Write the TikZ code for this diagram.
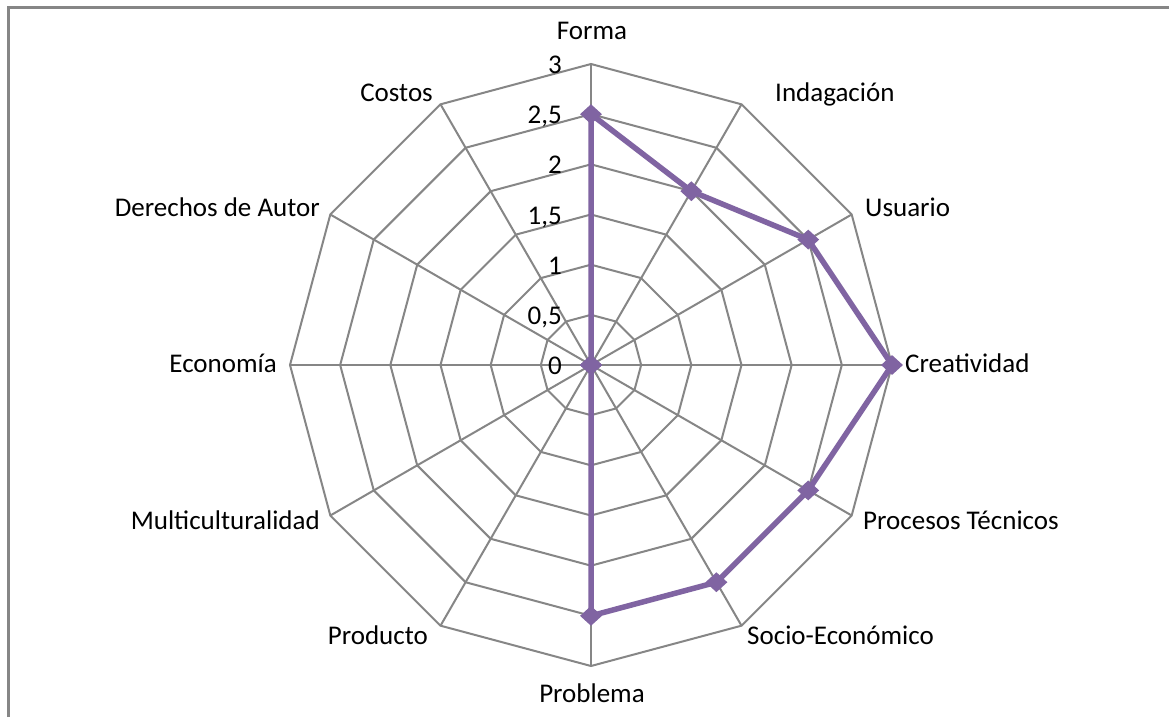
\documentclass[tikz,border=0pt]{standalone}
\usepackage{fontspec}
\setmainfont{Carlito}
\usetikzlibrary{shapes.geometric,calc}
\definecolor{gridgray}{HTML}{868686}
\definecolor{seriespurple}{HTML}{8064A2}
\begin{document}
\begin{tikzpicture}[x=1pt,y=1pt,
  gridline/.style={draw=gridgray,line width=2pt},
  frameline/.style={draw=gridgray,line width=3pt},
  serieline/.style={draw=seriespurple,line width=5.5pt,line join=round},
  marker/.style={diamond,fill=seriespurple,inner sep=0pt,minimum width=22pt,minimum height=20pt},
  axislabel/.style={font=\fontsize{27}{31}\selectfont,inner sep=0pt},
  ticklabel/.style={font=\fontsize{27}{31}\selectfont,inner sep=0pt,anchor=base east}]
\useasboundingbox (0,0) rectangle (1169,-717);
\fill[white] (0,0) rectangle (1169,-717);
% chart frame (left and top edges)
\coordinate (f1) at (8,-717);
\coordinate (f2) at (8,-8);
\coordinate (f3) at (1169,-8);
\draw[frameline] (f1) -- (f2) -- (f3);
\coordinate (O) at (591,-365);
\begin{scope}[shift={(O)}]
  % rings
  \foreach \k in {1,...,6} {
    \draw[gridline] (90:\k*50.1667)
      \foreach \i in {1,...,11} { -- ({90-30*\i}:\k*50.1667) } -- cycle;
  }
  % spokes
  \foreach \i in {0,...,11} {
    \coordinate (v\i) at ({90-30*\i}:301);
    \draw[gridline] (O) -- (v\i);
  }
  % data points
  \foreach \v [count=\j from 0] in {2.5,2,2.5,3,2.5,2.5,2.5,0,0,0,0,0} {
    \coordinate (d\j) at ({90-30*\j}:\v*100.333);
  }
\end{scope}
% series
\draw[serieline] (d0) -- (d1) -- (d2) -- (d3) -- (d4) -- (d5) -- (d6)
  -- (d7) -- (d8) -- (d9) -- (d10) -- (d11) -- cycle;
\foreach \i in {0,...,11} { \node[marker] (m\i) at (d\i) {}; }
% tick labels
\foreach \t [count=\k from 0] in {0,{0,5},1,{1,5},2,{2,5},3} {
  \node[ticklabel] (t\k) at (562,{-(365-\k*50.1667+9.5)}) {\t};
}
% category labels
\node[axislabel,anchor=base] (l0) at (592,-40) {Forma};
\node[axislabel,anchor=base west] (l1) at (775,-101.7) {Indagación};
\node[axislabel,anchor=base west] (l2) at (865,-216) {Usuario};
\node[axislabel,anchor=base west] (l3) at (905,-372) {Creatividad};
\node[axislabel,anchor=base west] (l4) at (863,-529) {Procesos Técnicos};
\node[axislabel,anchor=base west] (l5) at (747,-644) {Socio-Económico};
\node[axislabel,anchor=base] (l6) at (592,-702) {Problema};
\node[axislabel,anchor=base east] (l7) at (428,-644) {Producto};
\node[axislabel,anchor=base east] (l8) at (320,-529) {Multiculturalidad};
\node[axislabel,anchor=base east] (l9) at (277,-372) {Economía};
\node[axislabel,anchor=base east] (l10) at (320,-216) {Derechos de Autor};
\node[axislabel,anchor=base east] (l11) at (433,-101.7) {Costos};
\end{tikzpicture}
\end{document}
